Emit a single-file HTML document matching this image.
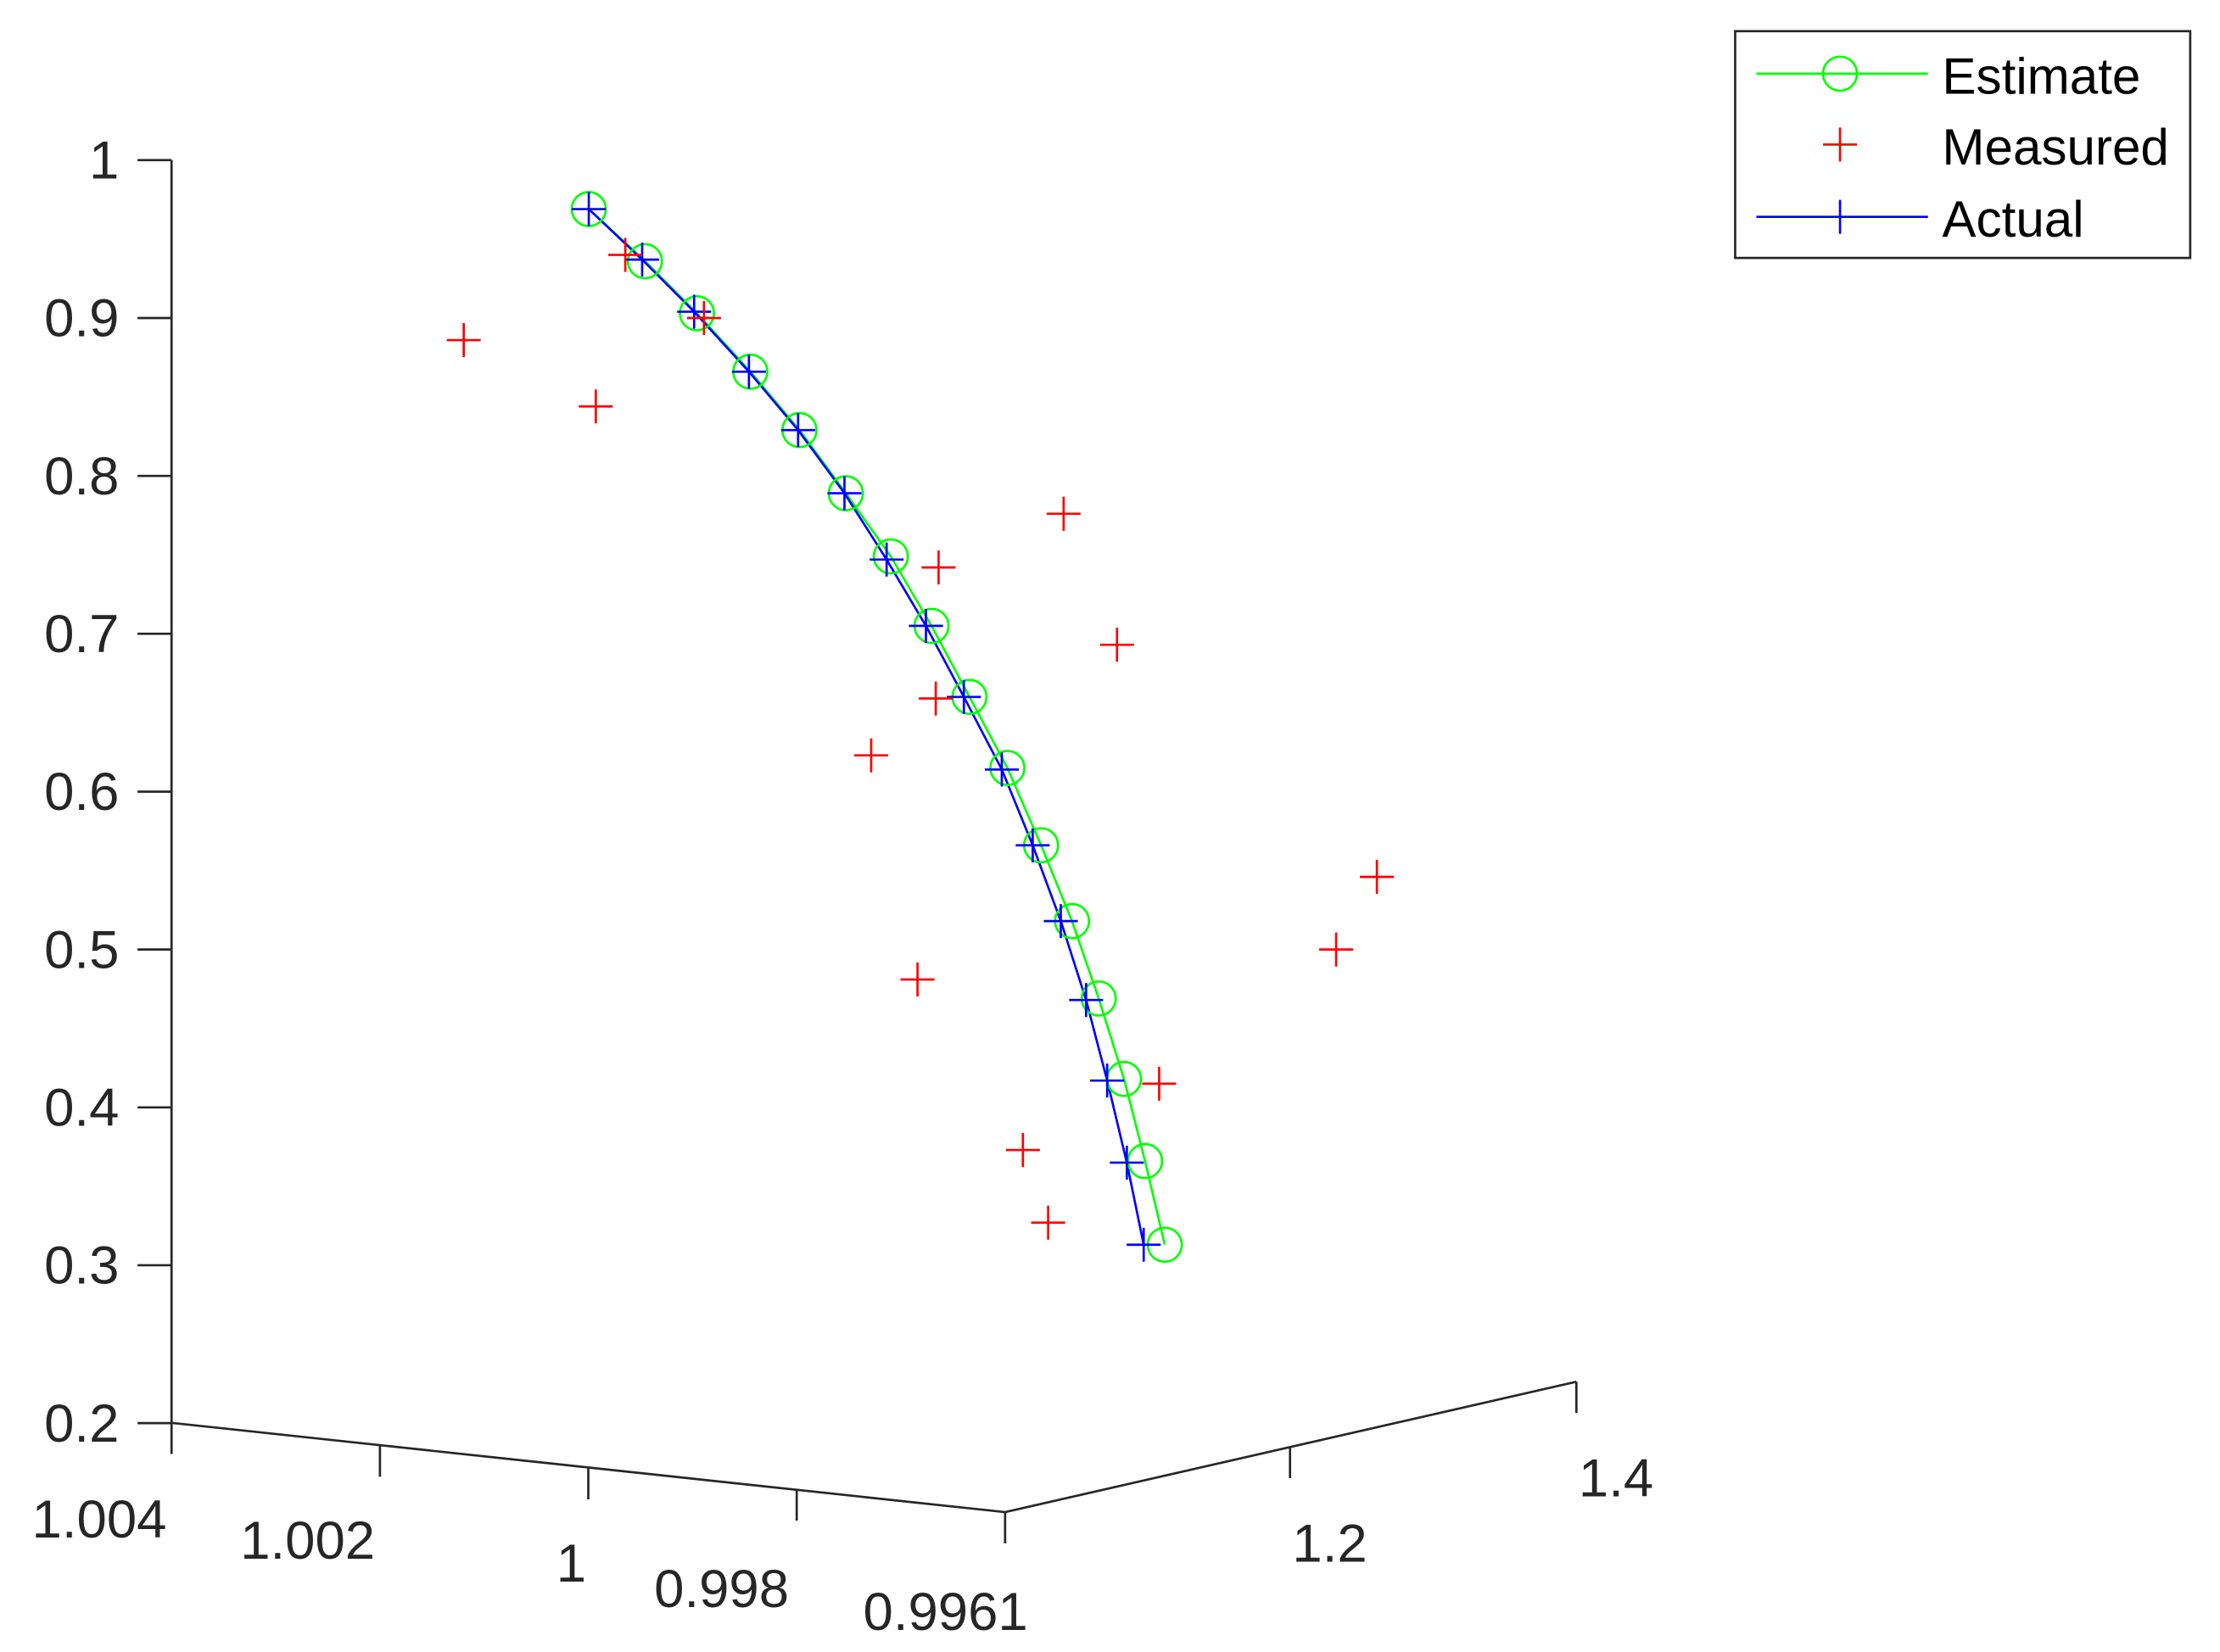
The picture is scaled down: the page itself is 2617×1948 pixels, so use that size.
<!DOCTYPE html>
<html><head><meta charset="utf-8"><style>
html,body{margin:0;padding:0;background:#fff;}
svg{display:block;font-family:"Liberation Sans",sans-serif;}
</style></head><body>
<svg id="chart" width="2617" height="1948" viewBox="0 0 1566 1165.7" xmlns="http://www.w3.org/2000/svg">
<g id="axes" stroke="#262626" stroke-width="1.6" fill="none"></g>
<g id="labels" fill="#262626" font-size="38"></g>
<g id="series"></g>
<g>
<rect x="1224" y="22" width="321" height="160" fill="#fff" stroke="#262626" stroke-width="1.6"/>
<line x1="1239" y1="52" x2="1360" y2="52" stroke="#00ff00" stroke-width="1.6"/>
<circle cx="1298" cy="52" r="12" fill="none" stroke="#00ff00" stroke-width="1.6"/>
<text x="1370" y="66" font-size="36" fill="#000">Estimate</text>
<path d="M1286 102H1310M1298 90V114" stroke="#ff0000" stroke-width="1.6"/>
<text x="1370" y="116" font-size="36" fill="#000">Measured</text>
<line x1="1239" y1="153" x2="1360" y2="153" stroke="#0000ff" stroke-width="1.6"/>
<path d="M1298 141V165" stroke="#0000ff" stroke-width="1.6"/>
<text x="1370" y="167" font-size="36" fill="#000">Actual</text>
</g>
</svg>
<script>
const zTicks=[1,0.9,0.8,0.7,0.6,0.5,0.4,0.3,0.2];
const zTickLabels=["1","0.9","0.8","0.7","0.6","0.5","0.4","0.3","0.2"];
const xTickLabels=["1.004","1.002","1","0.998","0.9961"];
const yTickLabels=["1.2","1.4"];
// projected horizontal coordinate (h) and height (z)
const estH=[.297,.337,.374,.412,.447,.480,.512,.541,.568,.595,.619,.641,.660,.678,.693,.707];
const estZ=[.969,.936,.903,.866,.829,.789,.749,.705,.660,.615,.566,.518,.469,.418,.366,.313];
const actH=[.297,.335,.372,.411,.446,.479,.509,.537,.564,.591,.613,.633,.651,.666,.680,.692];
const actZ=[.969,.937,.904,.866,.829,.789,.747,.705,.660,.614,.566,.518,.468,.417,.365,.313];
const measH=[.323,.379,.208,.302,.635,.546,.673,.544,.498,.858,.829,.531,.703,.606,.624];
const measZ=[.940,.900,.886,.844,.776,.742,.693,.659,.623,.546,.500,.481,.415,.373,.327];
const NS='http://www.w3.org/2000/svg';
function hx(h){return 121+991*h;}
function zy(z){return 113+(1-z)*1114;}
function mk(tag,attrs,parent){const e=document.createElementNS(NS,tag);for(const k in attrs)e.setAttribute(k,attrs[k]);parent.appendChild(e);return e;}
const axes=document.getElementById('axes'),labels=document.getElementById('labels'),series=document.getElementById('series');
let l=mk('line',{x1:121,y1:zy(1),x2:121,y2:zy(0.2)},axes);


zTicks.forEach((z,i)=>{
 const t=mk('line',{x1:97,y1:zy(z),x2:121,y2:zy(z)},axes);
 
 
 const tx=mk('text',{x:84,y:zy(z)+13,'text-anchor':'end'},labels);
 
 
 tx.textContent=zTickLabels[i];
});
l=mk('path',{d:'M121 1004L709 1067L1112 975'},axes);


const xPos=[[121,1004,70,1085],[268,1020,217,1100],[415,1036,403,1116],[562,1051,509,1134],[709,1067,667,1150]];
xPos.forEach((p,i)=>{
 const t=mk('line',{x1:p[0],y1:p[1],x2:p[0],y2:p[1]+22},axes);
 
 
 const tx=mk('text',{x:p[2],y:p[3],'text-anchor':'middle'},labels);
 
 
 tx.textContent=xTickLabels[i];
});
const yPos=[[910,1021,938,1102],[1112,975,1140,1056]];
yPos.forEach((p,i)=>{
 const t=mk('line',{x1:p[0],y1:p[1],x2:p[0],y2:p[1]+22},axes);
 
 
 const tx=mk('text',{x:p[2],y:p[3],'text-anchor':'middle'},labels);
 
 
 tx.textContent=yTickLabels[i];
});
function pts(H,Z){return H.map((h,i)=>hx(h)+','+zy(Z[i])).join(' ');}
let pl=mk('polyline',{points:pts(estH,estZ),fill:'none',stroke:'#00ff00','stroke-width':1.6},series);


pl=mk('polyline',{points:pts(actH,actZ),fill:'none',stroke:'#0000ff','stroke-width':1.6},series);


estH.forEach((h,i)=>{
 const c=mk('circle',{cx:hx(h),cy:zy(estZ[i]),r:12,fill:'none',stroke:'#00ff00','stroke-width':1.6},series);
 
 
});
function plus(x,y,col,name){const p=mk('path',{d:`M${x-12} ${y}H${x+12}M${x} ${y-12}V${y+12}`,stroke:col,'stroke-width':1.6},series);
 
 }
actH.forEach((h,i)=>plus(hx(h),zy(actZ[i]),'#0000ff','actual-point'));
measH.forEach((h,i)=>plus(hx(h),zy(measZ[i]),'#ff0000','measured-point'));
</script>
</body></html>
